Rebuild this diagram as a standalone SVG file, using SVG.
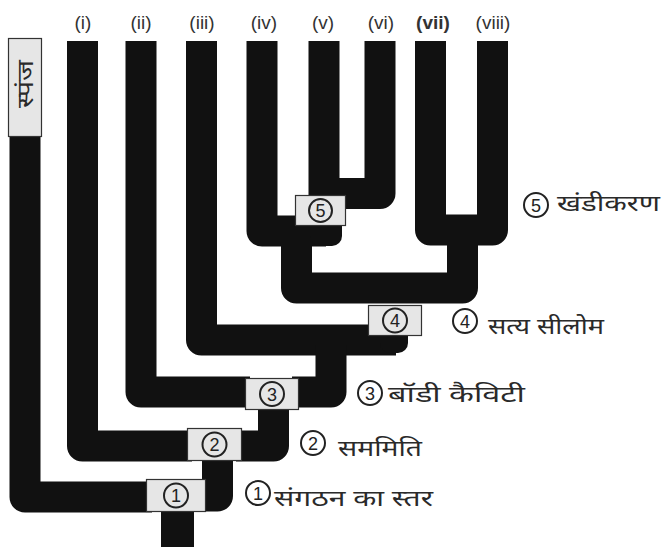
<svg xmlns="http://www.w3.org/2000/svg" width="662" height="549" viewBox="0 0 662 549">
  <style>
    .branch { fill: none; stroke: #111; stroke-width: 31; stroke-linejoin: round; stroke-linecap: butt; }
    .box { fill: #e6e6e6; stroke: #333; stroke-width: 1.2; }
    .ring { fill: none; stroke: #222; stroke-width: 2; }
    .num { font-family: "Liberation Sans", Arial, sans-serif; font-size: 18px; fill: #222; text-anchor: middle; }
    .col { font-family: "Liberation Sans", Arial, sans-serif; font-size: 19px; fill: #333; text-anchor: middle; }
    .hi { font-family: "Noto Sans Devanagari", "Noto Sans", "DejaVu Sans", sans-serif; font-size: 22px; fill: #2a2a2a; }
  </style>

  <!-- column labels -->
  <g id="labels">
    <text class="col" x="83" y="29">(i)</text>
    <text class="col" x="141" y="29">(ii)</text>
    <text class="col" x="202" y="29">(iii)</text>
    <text class="col" x="264" y="29">(iv)</text>
    <text class="col" x="323" y="29">(v)</text>
    <text class="col" x="381" y="29">(vi)</text>
    <text class="col" x="433" y="29" font-weight="bold">(vii)</text>
    <text class="col" x="493" y="29">(viii)</text>
  </g>

  <!-- lineage bars -->
  <g id="connectors">
    <!-- sponge lineage -->
    <path class="branch" d="M25,136 V497 H152"/>
    <!-- (i) -->
    <path class="branch" d="M82.5,41 V446 H192"/>
    <!-- (ii) -->
    <path class="branch" d="M141,41 V392 H250"/>
    <!-- (iii) -->
    <path class="branch" d="M201.5,41 V340 H396"/>
    <rect x="380" y="326" width="28" height="27" rx="10" fill="#111"/>
    <!-- stem 4 -> 3 -->
    <path class="branch" d="M331,345 V392 H292"/>
    <!-- stem 3 -> 2 -->
    <path class="branch" d="M273.5,405 V446 H236"/>
    <!-- stem 2 -> 1 -->
    <path class="branch" d="M217.5,455 V496 H200"/>
    <!-- root stem -->
    <rect x="161" y="505" width="33" height="42" fill="#111"/>

    <!-- (iv) -->
    <path class="branch" d="M262,41 V231 H326"/>
    <rect x="310" y="216" width="32" height="30" rx="10" fill="#111"/>
    <!-- (v) -->
    <path class="branch" d="M324,41 V200"/>
    <!-- (vi) -->
    <path class="branch" d="M380,41 V193.5 H330"/>
    <!-- (vii) + (viii) -->
    <path class="branch" d="M430.5,41 V230 H492.5 V41"/>
    <!-- big U joining both groups -->
    <path class="branch" d="M296.5,238 V288 H462.5 V228"/>
  </g>

  <!-- sponge -->
  <g id="sponge">
    <rect class="box" x="8.5" y="38.5" width="33" height="98" fill="#ececec" stroke-width="1.6"/>
    <text class="hi" transform="translate(33,84) rotate(-90)" text-anchor="middle" font-size="23" textLength="48" lengthAdjust="spacingAndGlyphs">स्पंज</text>
  </g>

  <!-- numbered nodes -->
  <g id="node1">
    <rect class="box" x="146.5" y="479.5" width="59" height="32"/>
    <circle class="ring" cx="176" cy="495.5" r="12"/>
    <text class="num" x="176" y="502">1</text>
  </g>
  <g id="node2">
    <rect class="box" x="187.5" y="428.5" width="54" height="32"/>
    <circle class="ring" cx="214.5" cy="444.5" r="12"/>
    <text class="num" x="214.5" y="451">2</text>
  </g>
  <g id="node3">
    <rect class="box" x="245.5" y="378.5" width="53" height="31"/>
    <circle class="ring" cx="272" cy="394" r="12"/>
    <text class="num" x="272" y="400.5">3</text>
  </g>
  <g id="node4">
    <rect class="box" x="368.5" y="305.5" width="53" height="30"/>
    <circle class="ring" cx="395" cy="320.5" r="12"/>
    <text class="num" x="395" y="327">4</text>
  </g>
  <g id="node5">
    <rect class="box" x="295.5" y="195.5" width="50" height="30"/>
    <circle class="ring" cx="320.5" cy="210.5" r="11.5"/>
    <text class="num" x="320.5" y="217">5</text>
  </g>

  <!-- legend -->
  <g id="legend5">
    <circle class="ring" cx="536" cy="205" r="12"/>
    <text class="num" x="536" y="211.5">5</text>
    <text class="hi" x="557" y="211" textLength="103" lengthAdjust="spacingAndGlyphs">खंडीकरण</text>
  </g>
  <g id="legend4">
    <circle class="ring" cx="465" cy="321" r="12"/>
    <text class="num" x="465" y="327.5">4</text>
    <text class="hi" x="488" y="334" textLength="116" lengthAdjust="spacingAndGlyphs">सत्य सीलोम</text>
  </g>
  <g id="legend3">
    <circle class="ring" cx="370" cy="393" r="12"/>
    <text class="num" x="370" y="399.5">3</text>
    <text class="hi" x="388" y="402" textLength="137" lengthAdjust="spacingAndGlyphs">बॉडी कैविटी</text>
  </g>
  <g id="legend2">
    <circle class="ring" cx="313" cy="443" r="12"/>
    <text class="num" x="313" y="449.5">2</text>
    <text class="hi" x="338" y="456" textLength="84" lengthAdjust="spacingAndGlyphs">सममिति</text>
  </g>
  <g id="legend1">
    <circle class="ring" cx="258" cy="493" r="12"/>
    <text class="num" x="258" y="499.5">1</text>
    <text class="hi" x="274" y="506" textLength="159" lengthAdjust="spacingAndGlyphs">संगठन का स्तर</text>
  </g>
</svg>
